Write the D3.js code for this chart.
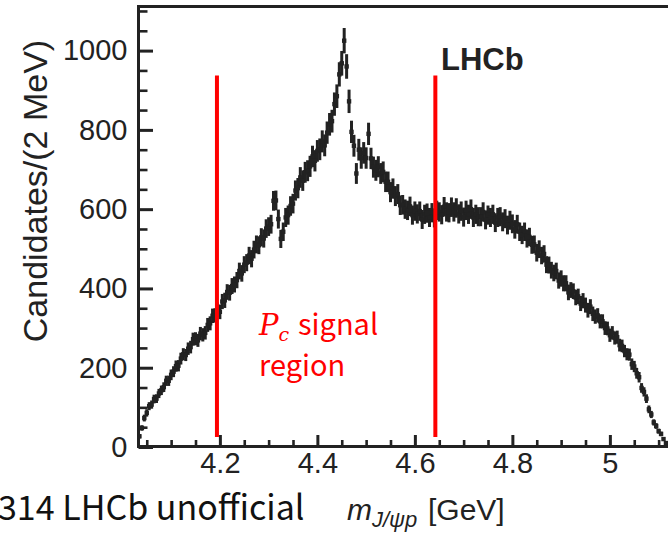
<!DOCTYPE html>
<meta charset="utf-8">
<html>
<script src="https://d3js.org/d3.v7.min.js"></script>
<style>
  body { margin: 0; background: #fff; }
</style>
<div id="chart"></div>
<script>

var width = 668,
    height = 537;

// bins: first centre and spacing (GeV), counts are candidates per 2 MeV
var massStart = 4.035,
    massStep = 0.005;

var counts = [
  27, 48, 73, 86, 103, 107, 121, 122, 135, 143,
  151, 167, 167, 182, 190, 204, 205, 223, 234, 232,
  248, 252, 272, 273, 269, 286, 283, 288, 308, 312,
  331, 332, 346, 341, 367, 370, 391, 389, 406, 410,
  421, 444, 438, 460, 465, 483, 475, 498, 511, 509,
  529, 526, 551, 556, 562, 621, 622, 575, 525, 543,
  579, 585, 608, 614, 647, 653, 680, 672, 693, 697,
  708, 733, 722, 747, 751, 771, 761, 793, 814, 822,
  865, 885, 940, 968, 1025, 960, 872, 795, 760, 690,
  750, 729, 742, 729, 790, 728, 706, 698, 707, 690,
  694, 669, 669, 643, 652, 633, 638, 610, 611, 600,
  597, 607, 585, 595, 588, 595, 574, 587, 590, 579,
  591, 578, 597, 593, 586, 606, 593, 591, 605, 593,
  603, 588, 595, 580, 597, 587, 600, 579, 587, 581,
  581, 593, 573, 585, 579, 587, 566, 579, 581, 568,
  576, 560, 572, 563, 549, 562, 543, 535, 543, 526,
  530, 510, 511, 490, 499, 483, 487, 460, 459, 446,
  439, 444, 420, 425, 413, 413, 390, 396, 393, 377,
  380, 362, 369, 358, 345, 354, 336, 329, 332, 317,
  317, 300, 299, 282, 288, 275, 277, 257, 255, 242,
  234, 233, 209, 203, 186, 176, 149, 139, 122, 95,
  82, 62, 53, 40, 33, 20, 10, 4
];

var xTicks = [4.2, 4.4, 4.6, 4.8, 5];
var yTicks = [0, 200, 400, 600, 800, 1000];

// P_c signal region edges (GeV) and the height span of the red lines (candidates)
var signalEdges = [4.194, 4.642];
var signalSpan = [25, 937];

var data = counts.map(function(c, i) {
  return { m: massStart + i * massStep, n: c };
});

var svg = d3.select("#chart")
  .append("svg")
    .attr("width", width)
    .attr("height", height)
    .style("display", "block");

var x = d3.scaleLinear().domain([4.03, 5.15]).range([137, 683]);
var y = d3.scaleLinear().domain([0, 1110]).range([447, 7]);

var ink = "#222";
var axisFont = "'Liberation Sans', Arial, Helvetica, sans-serif";

// data points with statistical error bars
var pts = svg.append("g");
pts.selectAll("line")
  .data(data)
  .enter().append("line")
    .attr("x1", function(d) { return x(d.m); })
    .attr("x2", function(d) { return x(d.m); })
    .attr("y1", function(d) { return y(d.n + Math.sqrt(d.n)); })
    .attr("y2", function(d) { return y(Math.max(0, d.n - Math.sqrt(d.n))); })
    .attr("stroke", ink)
    .attr("stroke-width", 3);
pts.selectAll("rect")
  .data(data)
  .enter().append("rect")
    .attr("x", function(d) { return x(d.m) - 2.2; })
    .attr("y", function(d) { return y(d.n) - 2.2; })
    .attr("width", 4.4)
    .attr("height", 4.4)
    .attr("fill", ink);

// y axis (ticks pointing inwards)
var yAxis = svg.append("g")
  .attr("transform", "translate(138.5,0)")
  .call(d3.axisLeft(y).tickValues(yTicks).tickSize(-14.5).tickPadding(11).tickFormat(d3.format("d")));
var yMinor = svg.append("g")
  .attr("transform", "translate(138.5,0)")
  .call(d3.axisLeft(y).tickValues(d3.range(50, 1101, 50).filter(function(v) { return v % 200; }))
    .tickSize(-9).tickFormat(""));

// x axis
var xAxis = svg.append("g")
  .attr("transform", "translate(0,446.5)")
  .call(d3.axisBottom(x).tickValues(xTicks).tickSize(-11.5).tickPadding(6).tickFormat(d3.format("")));
var xMinor = svg.append("g")
  .attr("transform", "translate(0,446.5)")
  .call(d3.axisBottom(x).tickValues(d3.range(4.05, 5.11, 0.05).filter(function(v) { return Math.abs(v * 5 - Math.round(v * 5)) > 0.01; }))
    .tickSize(-6.5).tickFormat(""));

[yAxis, yMinor, xAxis, xMinor].forEach(function(g) {
  g.select(".domain").remove();
  g.selectAll(".tick line").attr("stroke", ink).attr("stroke-width", 3);
  g.selectAll("text")
    .attr("fill", ink)
    .style("font-family", axisFont)
    .style("font-size", "29px");
});
yMinor.selectAll(".tick line").attr("stroke-width", 2.6);
xMinor.selectAll(".tick line").attr("stroke-width", 2.6);

// frame: left, bottom and top lines
svg.append("path")
  .attr("d", "M668,6.5H138.5V446.5H668")
  .attr("fill", "none")
  .attr("stroke", ink)
  .attr("stroke-width", 3);

// signal region markers
svg.selectAll(".edge")
  .data(signalEdges)
  .enter().append("line")
    .attr("class", "edge")
    .attr("x1", function(d) { return x(d); })
    .attr("x2", function(d) { return x(d); })
    .attr("y1", y(signalSpan[0]))
    .attr("y2", y(signalSpan[1]))
    .attr("stroke", "#ff0000")
    .attr("stroke-width", 4);

// y title
svg.append("text")
  .attr("transform", "translate(47,191) rotate(-90)")
  .attr("text-anchor", "middle")
  .attr("fill", ink)
  .style("font-family", axisFont)
  .style("font-size", "34px")
  .text("Candidates/(2 MeV)");

// x title
var xt = svg.append("text")
  .attr("x", 347)
  .attr("y", 520)
  .attr("fill", ink)
  .style("font-family", axisFont)
  .style("font-size", "30px");
xt.append("tspan").style("font-style", "italic").text("m");
xt.append("tspan").attr("dy", 7).style("font-style", "italic").style("font-size", "22px").text("J/\u03c8p");
xt.append("tspan").attr("dy", -7).attr("x", 428).text("[GeV]");

// LHCb label
svg.append("text")
  .attr("x", 441)
  .attr("y", 70)
  .attr("fill", ink)
  .style("font-family", axisFont)
  .style("font-weight", "bold")
  .style("font-size", "31px")
  .text("LHCb");

// P_c signal region note
var cjk = "'Noto Sans CJK SC', 'Noto Sans', sans-serif";
var note = svg.append("text")
  .attr("x", 259)
  .attr("y", 335)
  .attr("fill", "#ff0000")
  .style("font-family", cjk)
  .style("font-size", "29px");
note.append("tspan")
  .style("font-family", "'DejaVu Serif', 'Liberation Serif', serif")
  .style("font-style", "italic")
  .text("P");
note.append("tspan")
  .attr("dy", 6)
  .style("font-family", "'DejaVu Serif', 'Liberation Serif', serif")
  .style("font-style", "italic")
  .style("font-size", "19px")
  .text("c");
note.append("tspan")
  .attr("dy", -6)
  .attr("x", 298)
  .text("signal");
svg.append("text")
  .attr("x", 259)
  .attr("y", 376)
  .attr("fill", "#ff0000")
  .style("font-family", cjk)
  .style("font-size", "29px")
  .text("region");

// footer
svg.append("text")
  .attr("x", -2)
  .attr("y", 520)
  .attr("fill", "#111")
  .style("font-family", cjk)
  .style("font-size", "34px")
  .text("314 LHCb unofficial");

</script>
</html>
